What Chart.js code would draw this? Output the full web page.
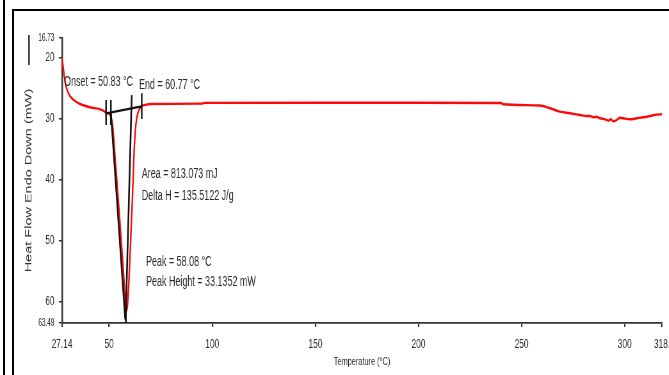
<!DOCTYPE html>
<html>
<head>
<meta charset="utf-8">
<script src="https://cdn.jsdelivr.net/npm/chart.js@4/dist/chart.umd.min.js"></script>
<style>
  html, body { margin: 0; padding: 0; background: #fff; overflow: hidden; }
  /* the plot is drawn wide and compressed horizontally, like the exported instrument graphic */
  #wrap { position: absolute; left: 0; top: 0; width: 1045px; height: 375px;
          transform: scaleX(0.64); transform-origin: 0 0; }
  .rule { position: absolute; background: #000; }
</style>
</head>
<body>
<div id="wrap"><canvas id="dsc" width="1045" height="375"></canvas></div>
<div class="rule" style="left:3px;top:0;width:2px;height:375px"></div>
<div class="rule" style="left:12px;top:9px;width:2px;height:366px"></div>
<div class="rule" style="left:12px;top:9px;width:657px;height:2px"></div>
<script>
// DSC heat-flow trace (°C, mW)
const temperature = [
  27.14, 27.62, 28.11, 28.84, 29.81, 31.02, 33.44, 35.87, 40.72, 45.57, 47.51, 48.82,
  49.59, 50.76, 51.73, 52.84, 55.26, 57.69, 58.08,
  58.81, 60.11, 61.42, 62.20, 63.02, 64.14, 65.79, 67.39,
  70, 95, 96, 150, 200, 240, 241, 258.9,
  263.8, 268.6, 273.5, 278.3, 281.6, 283.2, 284.8, 286.4, 288.0, 290.5, 292.1, 293.2,
  294.5, 296.1, 297.7, 299.3, 302.6, 305.8, 309.0, 312.3, 315.5, 318.1
];
const heatFlow = [
  20.01, 21.32, 22.64, 24.28, 25.43, 26.25, 27.07, 27.56, 28.10, 28.43, 28.71, 29.08,
  29.10, 29.64, 31.28, 36.20, 47.13, 59.18, 61.60,
  60.82, 52.61, 41.67, 34.56, 30.73, 28.82, 27.89, 27.72,
  27.55, 27.50, 27.38, 27.35, 27.35, 27.40, 27.60, 27.80,
  28.26, 28.82, 29.08, 29.36, 29.53, 29.53, 29.74, 29.64, 29.90, 30.07, 30.30, 30.07,
  30.40, 30.18, 29.81, 29.90, 30.07, 29.90, 29.74, 29.53, 29.31, 29.25
];

// peak analysis construction lines: [temperature, heat flow]
const peakBaseline = [[48.5, 29.10], [65.8, 27.95]];
const onsetTangent = [[50.83, 28.95], [57.8, 62.9]];
const endTangent = [[58.0, 62.9], [60.95, 26.1]];
const peakDrop = [[58.08, 61.60], [58.08, 63.49]];
const limitMarks = [
  [[48.5, 26.9], [48.5, 31.0]],
  [[50.83, 26.9], [50.83, 31.0]],
  [[65.8, 25.8], [65.8, 30.0]]
];

// axis ticks
const xTicks = [27.14, 50, 100, 150, 200, 250, 300, 318.1];
const xTickLabels = ['27.14', '50', '100', '150', '200', '250', '300', '318.'];
const yTicks = [16.73, 20, 30, 40, 50, 60, 63.49];
const yTickLabels = ['16.73', '20', '30', '40', '50', '60', '63.49'];

// result labels: text with its anchor [temperature, heat flow]
const resultNotes = [
  ['Onset = 50.83 °C', 28.11, 24.03],
  ['End = 60.77 °C', 64.48, 24.44],
  ['Area = 813.073 mJ', 65.79, 39.10],
  ['Delta H = 135.5122 J/g', 65.79, 42.65],
  ['Peak = 58.08 °C', 67.87, 53.48],
  ['Peak Height = 33.1352 mW', 67.87, 56.76]
];

const FONT = '"Liberation Sans", Arial, sans-serif';
const INK = '#2a2a2a';

const toPts = arr => arr.map(p => ({ x: p[0], y: p[1] }));
const blackLine = (pts, w) => ({
  data: toPts(pts), showLine: true, borderColor: '#111', borderWidth: w,
  pointRadius: 0, tension: 0, order: 0
});

const datasets = [
  blackLine(peakBaseline, 2.2),
  blackLine(onsetTangent, 2.6),
  blackLine(endTangent, 2.6),
  blackLine(peakDrop, 2.6),
  ...limitMarks.map(m => blackLine(m, 2.4)),
  {
    data: temperature.map((t, i) => ({ x: t, y: heatFlow[i] })),
    showLine: true, borderColor: 'rgb(250,10,10)', borderWidth: 2.4,
    pointRadius: 0, cubicInterpolationMode: 'monotone', order: 1
  }
];

const notesPlugin = {
  id: 'notes',
  afterDatasetsDraw(chart) {
    const { ctx, scales: { x, y } } = chart;
    ctx.save();
    ctx.fillStyle = INK;
    ctx.font = '14px ' + FONT;
    ctx.textAlign = 'left';
    ctx.textBaseline = 'middle';
    resultNotes.forEach(([txt, t, v]) => ctx.fillText(txt, x.getPixelForValue(t), y.getPixelForValue(v)));
    ctx.restore();
  },
  afterDraw(chart) {
    // short rule above the heat-flow axis title
    const { ctx } = chart;
    ctx.save();
    ctx.strokeStyle = '#333';
    ctx.lineWidth = 2.5;
    ctx.beginPath();
    ctx.moveTo(45.3, 35);
    ctx.lineTo(45.3, 65);
    ctx.stroke();
    ctx.restore();
  }
};

// axis end values are printed a little smaller than the round ticks
const yTickFont = c => ({ family: FONT, size: (c.index === 0 || c.index === yTicks.length - 1) ? 10 : 12.5 });

new Chart(document.getElementById('dsc'), {
  type: 'scatter',
  data: { datasets },
  options: {
    responsive: false,
    animation: false,
    devicePixelRatio: 1,
    layout: { padding: { left: 0, right: 10.6, top: 38, bottom: 0 } },
    plugins: { legend: { display: false }, tooltip: { enabled: false } },
    scales: {
      x: {
        type: 'linear', min: 27.14, max: 318.1,
        afterBuildTicks: s => { s.ticks = xTicks.map(v => ({ value: v })); },
        afterFit: s => { s.height = 52; s.paddingLeft = 0; s.paddingRight = 0; },
        ticks: {
          autoSkip: false, maxRotation: 0, padding: 10, color: INK,
          font: { family: FONT, size: 13 },
          callback: (v, i) => xTickLabels[i]
        },
        grid: { display: true, drawOnChartArea: false, drawTicks: true, tickLength: 4, color: '#333', lineWidth: 2.2 },
        border: { display: true, color: '#333', width: 1.8 },
        title: {
          display: true, text: 'Temperature (°C)', color: INK,
          font: { family: FONT, size: 11.5 }, padding: { top: 0, bottom: 6 }
        }
      },
      y: {
        type: 'linear', reverse: true, min: 16.73, max: 63.49,
        afterBuildTicks: s => { s.ticks = yTicks.map(v => ({ value: v })); },
        afterFit: s => { s.width = 96.9; s.paddingTop = 0; s.paddingBottom = 0; },
        ticks: {
          autoSkip: false, padding: 7, color: INK,
          font: yTickFont,
          callback: (v, i) => yTickLabels[i]
        },
        grid: { display: true, drawOnChartArea: false, drawTicks: true, tickLength: 5, color: '#333', lineWidth: 1.5 },
        border: { display: true, color: '#333', width: 2.5 },
        title: {
          display: true, text: 'Heat Flow Endo Down (mW)', color: '#333',
          font: { family: FONT, size: 14.5 }, padding: { top: 36.6, bottom: 0 }
        }
      }
    }
  },
  plugins: [notesPlugin]
});
</script>
</body>
</html>
